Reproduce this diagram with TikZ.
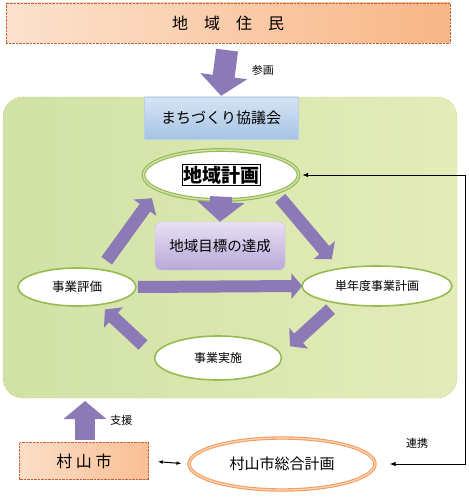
\documentclass[tikz,border=0pt]{standalone}
\usepackage{fontspec}
\newfontfamily\jp{Noto Sans CJK JP}
\usetikzlibrary{arrows.meta,shapes.geometric}
\definecolor{leafgreen}{RGB}{150,188,80}
\definecolor{panelgreen}{RGB}{208,226,166}
\definecolor{panelyellow}{RGB}{228,236,186}
\definecolor{arrowpurple}{RGB}{140,122,182}
\definecolor{peach}{RGB}{252,226,206}
\definecolor{apricot}{RGB}{248,182,134}
\definecolor{rust}{RGB}{196,96,60}
\definecolor{skyblue}{RGB}{214,228,244}
\definecolor{steelblue}{RGB}{166,196,228}
\definecolor{lavender}{RGB}{232,224,244}
\definecolor{lilac}{RGB}{184,168,216}
\definecolor{tangerine}{RGB}{244,156,90}
\tikzset{
  planbox/.style={rectangle, draw=rust, densely dotted, left color=peach, right color=apricot},
  cycleoval/.style={ellipse, draw=leafgreen, line width=1.6pt, fill=white, inner sep=0pt},
  bigarrow/.style={draw=arrowpurple, line width=#1, -{Triangle[width=2.1*#1,length=0.9*#1]}},
  bigarrow/.default=13pt,
  note/.style={font=\jp\fontsize{11}{12}\selectfont}
}
\begin{document}
\begin{tikzpicture}[x=1pt, y=-1pt, font=\jp]
  \useasboundingbox (0,0) rectangle (468,500);

  % Background panel
  \node[rectangle, rounded corners=20pt, draw=olive!70, densely dotted, left color=panelgreen, right color=panelyellow,
        minimum width=454pt, minimum height=301pt] (panel) at (230,247.5) {};

  % Residents and council
  \node[planbox, minimum width=444pt, minimum height=40pt, font=\jp\fontsize{16}{18}\selectfont] (jumin) at (228,23) {地　域　住　民};
  \node[rectangle, draw=steelblue!80, top color=skyblue, bottom color=steelblue, minimum width=154pt, minimum height=42pt,
        font=\jp\fontsize{15}{17}\selectfont] (kyogikai) at (221,118) {まちづくり協議会};
  \draw[bigarrow=22pt, shorten <=7pt, shorten >=1pt] (jumin.south) -- (kyogikai.north) node[midway, right=13pt, note] {参画};

  % Local plan and goal
  \node[ellipse, draw=leafgreen, line width=1.2pt, double=leafgreen!45, double distance=1.4pt, fill=white,
        minimum width=155pt, minimum height=50pt] (keikaku) at (221,175)
        {\fontsize{19}{21}\selectfont\bfseries\setlength{\fboxsep}{1pt}\setlength{\fboxrule}{0.5pt}\fbox{地域計画}};
  \node[rectangle, rounded corners=6pt, draw=lilac!70, top color=lavender, bottom color=lilac, minimum width=130pt,
        minimum height=48pt, font=\jp\fontsize{14.5}{16}\selectfont] (mokuhyo) at (220,246) {地域目標の達成};
  \draw[bigarrow=22pt, shorten <=-4pt, shorten >=0pt] (keikaku.south) -- (mokuhyo.north);

  % Cycle of projects
  \node[cycleoval, minimum width=118pt, minimum height=38pt, font=\jp\fontsize{12.5}{14}\selectfont] (hyoka) at (77,287) {事業評価};
  \node[cycleoval, minimum width=150pt, minimum height=40pt, font=\jp\fontsize{12}{14}\selectfont] (tannendo) at (377,286) {単年度事業計画};
  \node[cycleoval, minimum width=127pt, minimum height=44pt, font=\jp\fontsize{12}{14}\selectfont] (jisshi) at (218,358) {事業実施};

  \draw[bigarrow=12pt, shorten <=1pt, shorten >=-1pt] (hyoka.east) -- (tannendo.west);
  \draw[bigarrow=13pt, shorten <=8pt, shorten >=2pt] ([xshift=25pt]hyoka.north) -- ([xshift=-68pt, yshift=4pt]keikaku.south);
  \draw[bigarrow=13pt, shorten <=2pt, shorten >=8pt] ([xshift=58pt, yshift=4pt]keikaku.south) -- ([xshift=-40pt]tannendo.north);
  \draw[bigarrow=13pt, shorten <=2pt, shorten >=0pt] ([xshift=-45pt, yshift=-1pt]tannendo.south) -- ([xshift=72pt, yshift=-11pt]jisshi.north);
  \draw[bigarrow=13pt, shorten <=0pt, shorten >=4pt] ([xshift=-75pt, yshift=13pt]jisshi.center) -- ([xshift=25pt]hyoka.south);

  % City and general plan
  \node[planbox, left color=peach!90!apricot, right color=apricot!80!peach, minimum width=129pt, minimum height=37pt,
        font=\jp\fontsize{16}{18}\selectfont] (city) at (84,461) {村 山 市};
  \node[ellipse, draw=tangerine, line width=1.1pt, double=tangerine!40, double distance=1.2pt, fill=white,
        minimum width=186pt, minimum height=52pt, font=\jp\fontsize{15}{17}\selectfont] (sogo) at (282,464) {村山市総合計画};
  \draw[bigarrow=20pt, shorten <=2pt, shorten >=3pt] (city.north -| 85,0) -- (85,398) node[midway, right=12pt, note] {支援};
  \draw[{Latex[length=5pt]}-{Latex[length=5pt]}, line width=1pt, shorten <=9pt, shorten >=7pt] (city.east) -- (sogo.west);

  % Link between plans
  \coordinate (rail) at (465,0);
  \draw[{Latex[length=6pt]}-{Latex[length=6pt]}, line width=1pt, shorten <=14pt, shorten >=3pt]
    (sogo.east) -- (sogo.east -| rail) |- (keikaku.east);
  \node[note] (renkei) at (417,443) {連携};
\end{tikzpicture}
\end{document}
